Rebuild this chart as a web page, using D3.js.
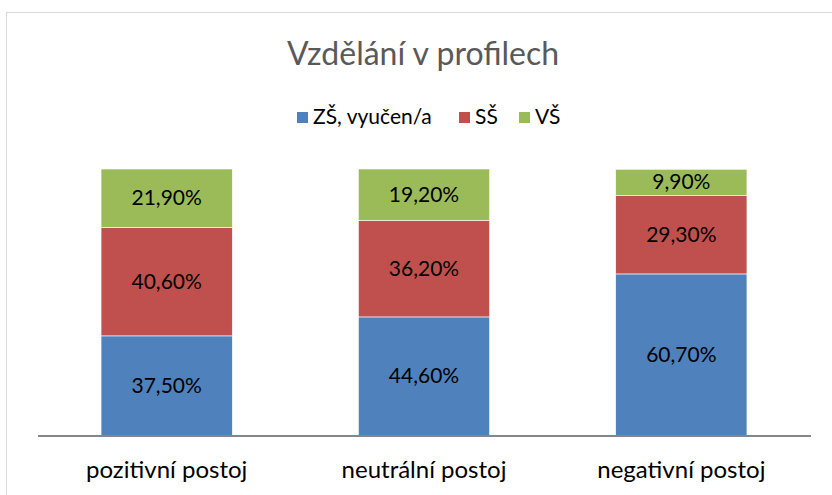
<!DOCTYPE html>
<html><head><meta charset="utf-8">
<script src="https://cdn.jsdelivr.net/npm/d3@7"></script>
<style>body{margin:0;background:#fff}svg{display:block;font-family:Lato,"Open Sans",sans-serif}</style>
</head><body><svg id="c" width="832" height="495"></svg>
<script>
const categories = ["pozitivní postoj", "neutrální postoj", "negativní postoj"];
const seriesNames = ["ZŠ, vyučen/a", "SŠ", "VŠ"];
const zs = [37.5, 44.6, 60.7];
const ss = [40.6, 36.2, 29.3];
const vs = [21.9, 19.2, 9.9];
const colors = ["#4f81bd", "#c0504d", "#9bbb59"];

const svg = d3.select("#c");
svg.append("rect").attr("x",6.5).attr("y",12.5).attr("width",840).attr("height",500)
  .attr("fill","#fff").attr("stroke","#d9d9d9");

const rows = categories.map((c,i)=>({cat:c, "ZŠ, vyučen/a":zs[i], "SŠ":ss[i], "VŠ":vs[i]}));
const stack = d3.stack().keys(seriesNames)(rows);

const x = d3.scaleBand().domain(categories).range([38,810]).paddingInner(0.49).paddingOuter(0.245);
const y = d3.scaleLinear().domain([0,100]).range([436,169]);

const fmt = v => d3.format(".2f")(v).replace(".", ",") + "%";

stack.forEach((s,si)=>{
  const g = svg.append("g");
  g.selectAll("rect").data(s).enter().append("rect")
    .attr("x", d=>x(d.data.cat)).attr("width", x.bandwidth())
    .attr("y", d=>y(d[1])).attr("height", d=>y(d[0])-y(d[1]))
    .attr("fill", colors[si]).attr("stroke","#fff").attr("stroke-width",0.6);
  g.selectAll("text").data(s).enter().append("text")
    .attr("x", d=>x(d.data.cat)+x.bandwidth()/2)
    .attr("y", d=>(y(d[0])+y(d[1]))/2 + 7)
    .attr("text-anchor","middle")
    .attr("font-size",21).attr("fill","#000")
    .text(d=>fmt(d[1]-d[0]));
});

const xAxis = svg.append("g").attr("transform","translate(0,436)")
  .call(d3.axisBottom(x).tickSize(0).tickPadding(0));
xAxis.select(".domain").attr("stroke","#868686").attr("stroke-width",2).attr("d","M38,0H811");
xAxis.selectAll("text").attr("font-size",24).attr("fill","#000").attr("dy",null).attr("y",42)
  .attr("font-family","Lato,'Open Sans',sans-serif");

svg.append("text").attr("x",423).attr("y",65).attr("text-anchor","middle")
  .attr("font-size",32).attr("fill","#595959").text("Vzdělání v profilech");

const legX = [297, 459, 519];
const leg = svg.append("g");
seriesNames.forEach((n,i)=>{
  leg.append("rect").attr("x",legX[i]).attr("y",112).attr("width",11).attr("height",11).attr("fill",colors[i]);
  leg.append("text").attr("x",legX[i]+16).attr("y",124)
    .attr("font-size",21).attr("fill","#000").text(n);
});
</script></body></html>
